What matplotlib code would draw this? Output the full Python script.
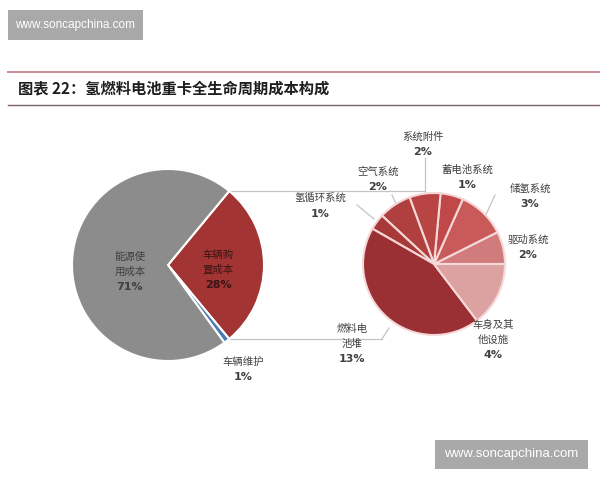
import numpy as np
import matplotlib
matplotlib.use('Agg')
import matplotlib.pyplot as plt
from matplotlib.patches import Rectangle

plt.rcParams['font.family'] = ['Noto Sans CJK SC', 'DejaVu Sans']
TXT = '#404040'
LINE = '#c4c4c4'

# left pie: whole life cost
left_names = ['车辆购\n置成本', '车辆维护', '能源使\n用成本']
left_vals = [28, 1, 71]
left_colors = ['#a33434', '#4a7bb2', '#8c8c8c']

# right pie: breakdown of vehicle purchase cost (shares)
right_names = ['驱动系统', '储氢系统', '蓄电池系统', '系统附件', '空气系统',
               '氢循环系统', '燃料电\n池堆', '车身及其\n他设施']
right_vals = [2.07, 3.06, 1.45, 1.98, 2.09, 1.02, 12.2, 4.1]
right_pct = ['2%', '3%', '1%', '2%', '2%', '1%', '13%', '4%']
right_colors = ['#d07c7c', '#c95a5a', '#c14848', '#b94444', '#b03f3f',
                '#a73939', '#9a2f34', '#dca2a2']

fig = plt.figure(figsize=(6, 4.8), dpi=100)
ax = fig.add_axes([0, 0, 1, 1])


def Y(y):
    # picture rows are counted from the top
    return 480 - y


# watermarks
for (x0, y0, w, h, fs) in [(8, 10, 135, 30, 8.5), (435, 440, 153, 29, 9.5)]:
    ax.add_patch(Rectangle((x0, Y(y0 + h)), w, h, color='#a9a9a9', lw=0))
    ax.text(x0 + w / 2, Y(y0 + h / 2), 'www.soncapchina.com', color='white',
            fontsize=fs, family='Liberation Sans', ha='center', va='center')

# title block
ax.plot([8, 600], [Y(72), Y(72)], color='#c98a94', lw=1.4)
ax.plot([8, 600], [Y(105), Y(105)], color='#7a6468', lw=1.0)
ax.text(18, Y(88), '图表 22：氢燃料电池重卡全生命周期成本构成', fontsize=11,
        fontweight='bold', color='#1e1e1e', ha='left', va='center')

# left pie
c1, r1 = (168, Y(265)), 96
start1 = left_vals[0] / sum(left_vals) * 360 / 2
w1, _ = ax.pie(left_vals, colors=left_colors, center=c1, radius=r1,
               startangle=start1, counterclock=False, frame=True,
               wedgeprops=dict(edgecolor='white', linewidth=1.5))

# right pie
c2, r2 = (434, Y(264)), 71
w2, _ = ax.pie(right_vals, colors=right_colors, center=c2, radius=r2,
               startangle=0, counterclock=True, frame=True,
               wedgeprops=dict(edgecolor='#f6d8d8', linewidth=1.5))
ax.set_xlim(0, 600)
ax.set_ylim(0, 480)
ax.axis('off')

# connectors from the purchase wedge to the right pie
th_top = np.deg2rad(w1[0].theta2)
th_bot = np.deg2rad(w1[0].theta1)
xt, yt = c1[0] + r1 * np.cos(th_top), c1[1] + r1 * np.sin(th_top)
xb, yb = c1[0] + r1 * np.cos(th_bot), c1[1] + r1 * np.sin(th_bot)
ax.plot([xt, c2[0] - 9], [yt, yt], color=LINE, lw=0.9, zorder=0)
ax.plot([xb, c2[0] - 52], [yb, yb], color=LINE, lw=0.9, zorder=0)

# leader lines
for (xa, ya, xb2, yb2) in [(425, 158, 425, 193), (392, 195, 397, 206),
                           (495, 195, 483, 221), (357, 205, 374, 219),
                           (382, 339, 389, 328)]:
    ax.plot([xa, xb2], [Y(ya), Y(yb2)], color=LINE, lw=0.9, zorder=0)

# labels: position of the first text line
left_pos = [(218, 255, '#3a1414'), (243, 362, TXT), (130, 257, TXT)]
left_pct = [f'{v}%' for v in left_vals]
right_pos = [(528, 240), (530, 189), (467, 170), (423, 137), (378, 172),
             (320, 199), (352, 329), (493, 325)]


def put_label(x, y, name, pct, color):
    lines = name.split('\n')
    for i, s in enumerate(lines):
        ax.text(x, Y(y + 15 * i), s, fontsize=7.5, color=color,
                ha='center', va='center')
    ax.text(x, Y(y + 15 * len(lines)), pct, fontsize=8, fontweight='bold',
            color=color, ha='center', va='center', family='DejaVu Sans')


for (x, y, col), name, pct in zip(left_pos, left_names, left_pct):
    put_label(x, y, name, pct, col)
for (x, y), name, pct in zip(right_pos, right_names, right_pct):
    put_label(x, y, name, pct, TXT)

fig.savefig('out.png', dpi=100, facecolor='white')
